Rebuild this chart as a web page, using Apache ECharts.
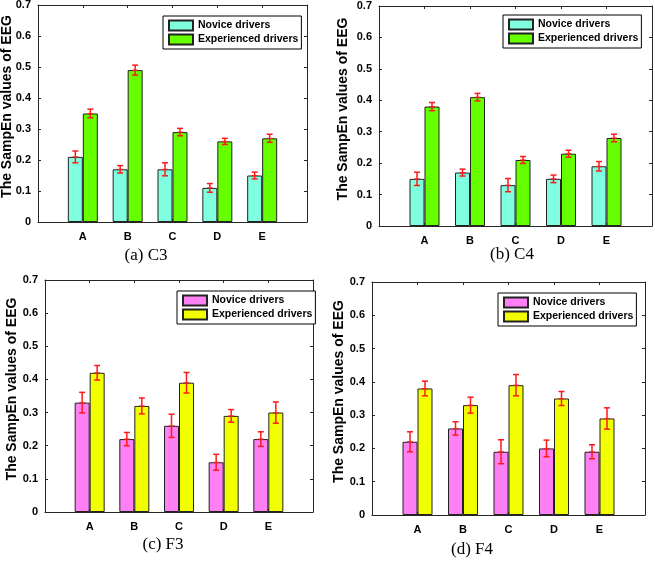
<!DOCTYPE html>
<html>
<head>
<meta charset="utf-8">
<script src="https://cdn.jsdelivr.net/npm/echarts@6/dist/echarts.min.js"></script>
<style>
html,body{margin:0;padding:0;background:#fff;width:655px;height:561px;overflow:hidden;}
.p{position:absolute;}
</style>
</head>
<body>
<div id="pa" class="p" style="left:0;top:0;width:330px;height:270px"></div>
<div id="pb" class="p" style="left:330px;top:0;width:325px;height:270px"></div>
<div id="pc" class="p" style="left:0;top:270px;width:330px;height:291px"></div>
<div id="pd" class="p" style="left:330px;top:270px;width:325px;height:291px"></div>
<script>
// ---- data ----
const categories = ['A', 'B', 'C', 'D', 'E'];
const seriesNames = ['Novice drivers', 'Experienced drivers'];
const yAxisName = 'The SampEn values of EEG';
const yMin = 0, yMax = 0.7, yInterval = 0.1;
const panelTitles = ['(a) C3', '(b) C4', '(c) F3', '(d) F4'];

const c3Novice = [0.21, 0.17, 0.17, 0.11, 0.15];
const c3NoviceErr = [0.019, 0.012, 0.021, 0.014, 0.011];
const c3Experienced = [0.35, 0.49, 0.29, 0.26, 0.27];
const c3ExperiencedErr = [0.014, 0.016, 0.012, 0.010, 0.013];

const c4Novice = [0.15, 0.17, 0.13, 0.15, 0.19];
const c4NoviceErr = [0.021, 0.011, 0.021, 0.012, 0.015];
const c4Experienced = [0.38, 0.41, 0.21, 0.23, 0.28];
const c4ExperiencedErr = [0.013, 0.012, 0.011, 0.011, 0.012];

const f3Novice = [0.33, 0.22, 0.26, 0.15, 0.22];
const f3NoviceErr = [0.031, 0.020, 0.035, 0.024, 0.022];
const f3Experienced = [0.42, 0.32, 0.39, 0.29, 0.30];
const f3ExperiencedErr = [0.022, 0.024, 0.031, 0.019, 0.032];

const f4Novice = [0.22, 0.26, 0.19, 0.20, 0.19];
const f4NoviceErr = [0.030, 0.020, 0.036, 0.025, 0.021];
const f4Experienced = [0.38, 0.33, 0.39, 0.35, 0.29];
const f4ExperiencedErr = [0.022, 0.024, 0.032, 0.021, 0.032];

// ---- styles ----
const BAR_W = 15;
const SANS = '"Liberation Sans", Arial, sans-serif';
const SERIF = '"Liberation Serif", "Times New Roman", serif';
const FRAME = '#262626';

const panels = [
  { el: 'pa', title: panelTitles[0], novice: c3Novice, noviceErr: c3NoviceErr, exp: c3Experienced, expErr: c3ExperiencedErr,
    colors: ['#7FFFDF', '#66FF00'], grid: { left: 38, top: 5, width: 269, height: 217 },
    legend: { left: 163, top: 16 }, nameGap: 24, sub: [146, 256] },
  { el: 'pb', title: panelTitles[1], novice: c4Novice, noviceErr: c4NoviceErr, exp: c4Experienced, expErr: c4ExperiencedErr,
    colors: ['#7FFFDF', '#66FF00'], grid: { left: 49, top: 6, width: 273, height: 220 },
    legend: { left: 173, top: 15 }, nameGap: 29, sub: [182, 255] },
  { el: 'pc', title: panelTitles[2], novice: f3Novice, noviceErr: f3NoviceErr, exp: f3Experienced, expErr: f3ExperiencedErr,
    colors: ['#FF80F4', '#F2FF00'], grid: { left: 45, top: 10, width: 268, height: 232 },
    legend: { left: 177, top: 21 }, nameGap: 26, sub: [163, 275] },
  { el: 'pd', title: panelTitles[3], novice: f4Novice, noviceErr: f4NoviceErr, exp: f4Experienced, expErr: f4ExperiencedErr,
    colors: ['#FF80F4', '#F2FF00'], grid: { left: 42, top: 12, width: 273, height: 233 },
    legend: { left: 168, top: 23 }, nameGap: 26, sub: [142, 280] }
];

// x positions 1..5 on an axis running from 0 to 6 (like the original xlim)
function barData(vals) { return vals.map((v, i) => [i + 1, v]); }
function errData(vals, errs, side) { return vals.map((v, i) => [i + 1, v, errs[i], side]); }

function errRender(params, api) {
  const idx = api.value(0), v = api.value(1), e = api.value(2), side = api.value(3);
  const c = api.coord([idx, v]);
  const hi = api.coord([idx, v + e]);
  const lo = api.coord([idx, v - e]);
  const x = c[0] + side * BAR_W / 2;
  const cap = 3;
  const st = { stroke: '#FF1A1A', lineWidth: 1.5 };
  return {
    type: 'group',
    children: [
      { type: 'line', shape: { x1: x, y1: hi[1], x2: x, y2: lo[1] }, style: st },
      { type: 'line', shape: { x1: x - cap, y1: hi[1], x2: x + cap, y2: hi[1] }, style: st },
      { type: 'line', shape: { x1: x - cap, y1: lo[1], x2: x + cap, y2: lo[1] }, style: st },
      { type: 'line', shape: { x1: x - cap, y1: c[1], x2: x + cap, y2: c[1] }, style: { stroke: '#FF1A1A', lineWidth: 1 } }
    ]
  };
}

panels.forEach(p => {
  const chart = echarts.init(document.getElementById(p.el), null, { renderer: 'canvas' });
  const axisLabelStyle = { color: '#000', fontFamily: SANS, fontWeight: 'bold', fontSize: 11 };
  const xCommon = {
    type: 'value', min: 0, max: categories.length + 1, interval: 1,
    axisLine: { show: true, onZero: false, lineStyle: { color: FRAME, width: 1 } },
    axisTick: { show: true, inside: true, length: 3, lineStyle: { color: FRAME } },
    splitLine: { show: false }
  };
  const yCommon = {
    type: 'value', min: yMin, max: yMax, interval: yInterval,
    axisLine: { show: true, onZero: false, lineStyle: { color: FRAME, width: 1 } },
    axisTick: { show: true, inside: true, length: 3, lineStyle: { color: FRAME } },
    splitLine: { show: false }
  };
  const option = {
    animation: false,
    backgroundColor: '#fff',
    grid: Object.assign({ containLabel: false, outerBoundsMode: 'none' }, p.grid),
    legend: {
      orient: 'vertical',
      left: p.legend.left,
      top: p.legend.top,
      data: seriesNames,
      itemWidth: 24,
      itemHeight: 10,
      itemGap: 1,
      padding: [3, 3, 3, 5],
      borderColor: '#000',
      borderWidth: 1,
      backgroundColor: '#fff',
      selectedMode: false,
      icon: 'rect',
      textStyle: { color: '#000', fontFamily: SANS, fontWeight: 'bold', fontSize: 10.5, lineHeight: 13 }
    },
    xAxis: [
      Object.assign({}, xCommon, {
        position: 'bottom',
        axisLabel: Object.assign({ margin: 9, formatter: v => categories[v - 1] || '' }, axisLabelStyle)
      }),
      Object.assign({}, xCommon, { position: 'top', axisLabel: { show: false } })
    ],
    yAxis: [
      Object.assign({}, yCommon, {
        position: 'left',
        name: yAxisName, nameLocation: 'middle', nameGap: p.nameGap, nameMoveOverlap: false,
        nameTextStyle: { color: '#000', fontFamily: SANS, fontWeight: 'bold', fontSize: 14, padding: [0, 0, 0, 14] },
        axisLabel: Object.assign({ margin: 7, formatter: v => (v === 0 ? '0' : v.toFixed(1)) }, axisLabelStyle)
      }),
      Object.assign({}, yCommon, { position: 'right', axisLabel: { show: false } })
    ],
    graphic: [{
      type: 'text', x: p.sub[0], y: p.sub[1],
      style: { text: p.title, fontFamily: SERIF, fontSize: 17, fill: '#000', align: 'center', verticalAlign: 'middle' }
    }],
    series: [
      {
        name: seriesNames[0], type: 'bar', data: barData(p.novice), barWidth: BAR_W, barGap: '0%',
        itemStyle: { color: p.colors[0], borderColor: '#222', borderWidth: 1 }
      },
      {
        name: seriesNames[1], type: 'bar', data: barData(p.exp), barWidth: BAR_W, barGap: '0%',
        itemStyle: { color: p.colors[1], borderColor: '#222', borderWidth: 1 }
      },
      {
        type: 'custom', renderItem: errRender,
        data: errData(p.novice, p.noviceErr, -1).concat(errData(p.exp, p.expErr, 1)),
        encode: { x: 0, y: 1 }, z: 5, silent: true
      }
    ]
  };
  chart.setOption(option);
});
</script>
</body>
</html>
